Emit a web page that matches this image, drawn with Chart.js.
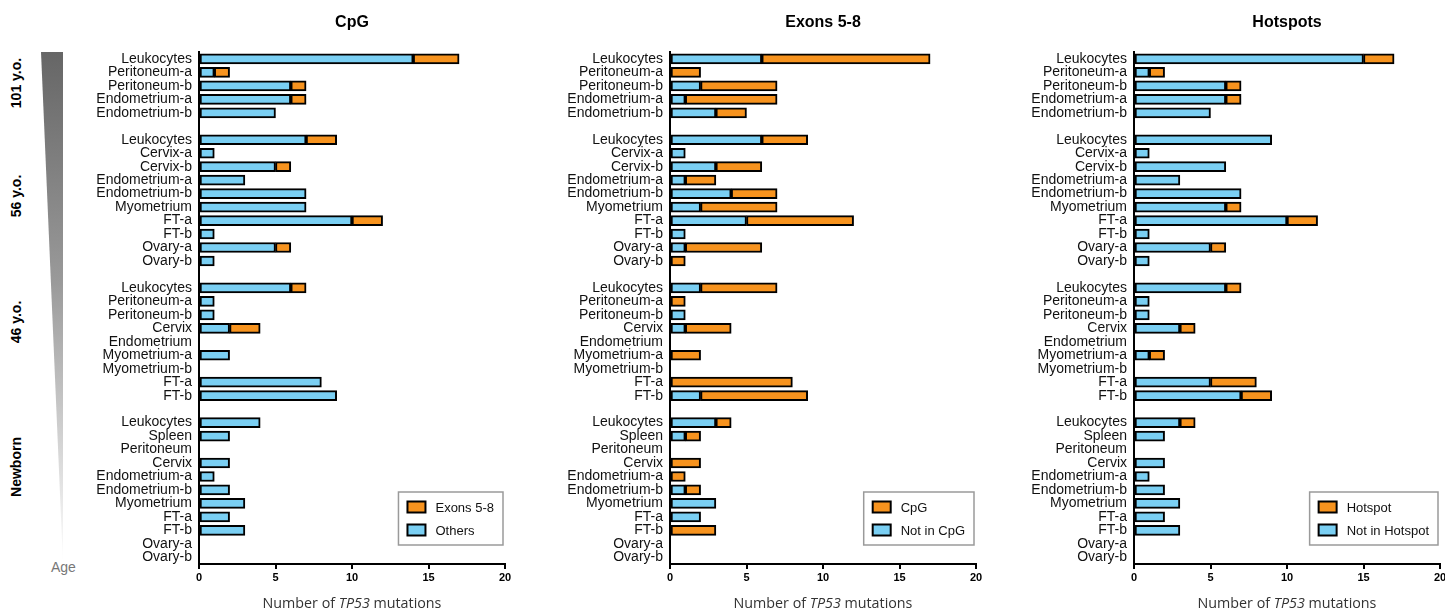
<!DOCTYPE html>
<html>
<head>
<meta charset="utf-8">
<title>TP53 mutations by tissue and age</title>
<script src="https://cdn.jsdelivr.net/npm/chart.js@4.4.1/dist/chart.umd.min.js"></script>
<style>
  html, body { margin: 0; padding: 0; background: #fff; overflow: hidden; }
  body { width: 1445px; height: 612px; position: relative; font-family: "Liberation Sans", Arial, sans-serif; }
  .panel { position: absolute; top: 0; height: 612px; }
  .age-bar {
    position: absolute; left: 41px; top: 52px; width: 22px; height: 512px;
    background: linear-gradient(to bottom, #666 0%, #9a9a9a 45%, #ffffff 100%);
    clip-path: polygon(0 0, 100% 0, 100% 100%);
  }
  .age-label {
    position: absolute; font-weight: bold; font-size: 14px; color: #000; white-space: nowrap;
    transform: translate(-50%, -50%) rotate(-90deg);
  }
  .age-caption { position: absolute; left: 51px; top: 559px; font-size: 14px; color: #777; }
</style>
</head>
<body>
<div class="age-bar"></div>
<div class="age-label" style="left:16px; top:83px;">101 y.o.</div>
<div class="age-label" style="left:16px; top:196px;">56 y.o.</div>
<div class="age-label" style="left:16px; top:322px;">46 y.o.</div>
<div class="age-label" style="left:16px; top:467px;">Newborn</div>
<div class="age-caption">Age</div>

<div class="panel" style="left:80px; width:440px;"><canvas id="cpg" width="440" height="612"></canvas></div>
<div class="panel" style="left:560px; width:430px;"><canvas id="exons" width="430" height="612"></canvas></div>
<div class="panel" style="left:1025px; width:430px;"><canvas id="hotspots" width="430" height="612"></canvas></div>

<script>
// Samples, grouped by donor age (blank rows separate the groups)
const categories = [
  'Leukocytes', 'Peritoneum-a', 'Peritoneum-b', 'Endometrium-a', 'Endometrium-b', '',
  'Leukocytes', 'Cervix-a', 'Cervix-b', 'Endometrium-a', 'Endometrium-b', 'Myometrium', 'FT-a', 'FT-b', 'Ovary-a', 'Ovary-b', '',
  'Leukocytes', 'Peritoneum-a', 'Peritoneum-b', 'Cervix', 'Endometrium', 'Myometrium-a', 'Myometrium-b', 'FT-a', 'FT-b', '',
  'Leukocytes', 'Spleen', 'Peritoneum', 'Cervix', 'Endometrium-a', 'Endometrium-b', 'Myometrium', 'FT-a', 'FT-b', 'Ovary-a', 'Ovary-b'
];

// CpG panel
const cpgOthers = [14, 1, 6, 6, 5, null, 7, 1, 5, 3, 7, 7, 10, 1, 5, 1, null, 6, 1, 1, 2, 0, 2, 0, 8, 9, null, 4, 2, 0, 2, 1, 2, 3, 2, 3, 0, 0];
const cpgExons  = [3, 1, 1, 1, 0, null, 2, 0, 1, 0, 0, 0, 2, 0, 1, 0, null, 1, 0, 0, 2, 0, 0, 0, 0, 0, null, 0, 0, 0, 0, 0, 0, 0, 0, 0, 0, 0];

// Exons 5-8 panel
const exonsNotCpg = [6, 0, 2, 1, 3, null, 6, 1, 3, 1, 4, 2, 5, 1, 1, 0, null, 2, 0, 1, 1, 0, 0, 0, 0, 2, null, 3, 1, 0, 0, 0, 1, 3, 2, 0, 0, 0];
const exonsCpg    = [11, 2, 5, 6, 2, null, 3, 0, 3, 2, 3, 5, 7, 0, 5, 1, null, 5, 1, 0, 3, 0, 2, 0, 8, 7, null, 1, 1, 0, 2, 1, 1, 0, 0, 3, 0, 0];

// Hotspots panel
const hotspotsNot = [15, 1, 6, 6, 5, null, 9, 1, 6, 3, 7, 6, 10, 1, 5, 1, null, 6, 1, 1, 3, 0, 1, 0, 5, 7, null, 3, 2, 0, 2, 1, 2, 3, 2, 3, 0, 0];
const hotspotsHot = [2, 1, 1, 1, 0, null, 0, 0, 0, 0, 0, 1, 2, 0, 1, 0, null, 1, 0, 0, 1, 0, 1, 0, 3, 2, null, 1, 0, 0, 0, 0, 0, 0, 0, 0, 0, 0];

const xTicks = [0, 5, 10, 15, 20];

const BLUE = '#7acff3';
const ORANGE = '#f7931e';
const FONT = '"Liberation Sans", Arial, Helvetica, sans-serif';

// empty segments are skipped so no zero-width outline is drawn
const segment = v => (v ? v : null);

// Legend boxed inside the lower right corner of the plot area
const insetLegend = {
  id: 'insetLegend',
  afterDraw(chart) {
    const ctx = chart.ctx;
    const area = chart.chartArea;
    const items = chart.data.datasets.slice().reverse();
    ctx.save();
    ctx.font = '13px ' + FONT;
    const textW = Math.max(...items.map(d => ctx.measureText(d.label).width));
    const padL = 9, swW = 18, swH = 11, gap = 10, padR = 9;
    const w = padL + swW + gap + textW + padR;
    const h = 53;
    const right = area.right - 2;
    const bottom = area.bottom - 19;
    const left = right - w;
    const top = bottom - h;
    ctx.strokeStyle = '#9a9a9a';
    ctx.lineWidth = 1.5;
    ctx.strokeRect(left, top, w, h);
    items.forEach((d, i) => {
      const cy = top + 15 + i * 23;
      ctx.fillStyle = d.backgroundColor;
      ctx.fillRect(left + padL, cy - swH / 2, swW, swH);
      ctx.strokeStyle = '#000';
      ctx.lineWidth = 2;
      ctx.strokeRect(left + padL, cy - swH / 2, swW, swH);
      ctx.fillStyle = '#111';
      ctx.textBaseline = 'middle';
      ctx.textAlign = 'left';
      ctx.fillText(d.label, left + padL + swW + gap, cy + 1);
    });
    ctx.restore();
  }
};

// X axis caption with the gene name in italics
const axisCaption = {
  id: 'axisCaption',
  afterDraw(chart) {
    const ctx = chart.ctx;
    const area = chart.chartArea;
    const parts = [
      { t: 'Number of ', f: '14.3px "Open Sans", sans-serif' },
      { t: 'TP53', f: 'italic 14.3px "Open Sans", sans-serif' },
      { t: ' mutations', f: '14.3px "Open Sans", sans-serif' }
    ];
    ctx.save();
    let total = 0;
    parts.forEach(p => { ctx.font = p.f; p.w = ctx.measureText(p.t).width; total += p.w; });
    let x = (area.left + area.right) / 2 - total / 2;
    ctx.fillStyle = '#333';
    ctx.textBaseline = 'middle';
    ctx.textAlign = 'left';
    parts.forEach(p => { ctx.font = p.f; ctx.fillText(p.t, x, 604); x += p.w; });
    ctx.restore();
  }
};

function makePanel(id, title, baseLabel, baseValues, topLabel, topValues, yAxisWidth, padRight) {
  return new Chart(document.getElementById(id), {
    type: 'bar',
    data: {
      labels: categories,
      datasets: [
        { label: baseLabel, data: baseValues.map(segment), backgroundColor: BLUE },
        { label: topLabel, data: topValues.map(segment), backgroundColor: ORANGE }
      ]
    },
    options: {
      indexAxis: 'y',
      responsive: false,
      animation: false,
      devicePixelRatio: 1,
      layout: { padding: { left: 0, right: padRight, top: 0, bottom: 0 } },
      datasets: {
        bar: {
          barThickness: 10,
          borderColor: '#000',
          borderWidth: 2,
          borderSkipped: false
        }
      },
      scales: {
        x: {
          stacked: true,
          min: 0,
          max: 20,
          afterBuildTicks: s => { s.ticks = xTicks.map(v => ({ value: v })); },
          afterFit: s => { s.height = 48; },
          border: { display: true, color: '#000', width: 2 },
          grid: { display: true, drawOnChartArea: false, drawTicks: true, tickLength: 5, color: '#000', lineWidth: 2 },
          ticks: { color: '#000', padding: 2, font: { family: FONT, size: 11, weight: 'bold' }, maxRotation: 0 }
        },
        y: {
          stacked: true,
          afterFit: s => { s.width = yAxisWidth; },
          border: { display: true, color: '#000', width: 2 },
          grid: { display: false, drawTicks: false },
          ticks: { color: '#111', padding: 7, autoSkip: false, font: { family: FONT, size: 14 } }
        }
      },
      plugins: {
        legend: { display: false },
        tooltip: { enabled: false },
        title: {
          display: true,
          text: title,
          fullSize: false,
          color: '#000',
          font: { family: FONT, size: 16, weight: 'bold', lineHeight: 1.2 },
          padding: { top: 13, bottom: 20 }
        }
      }
    },
    plugins: [insetLegend, axisCaption]
  });
}

makePanel('cpg', 'CpG', 'Others', cpgOthers, 'Exons 5-8', cpgExons, 119, 15);
makePanel('exons', 'Exons 5-8', 'Not in CpG', exonsNotCpg, 'CpG', exonsCpg, 110, 14);
makePanel('hotspots', 'Hotspots', 'Not in Hotspot', hotspotsNot, 'Hotspot', hotspotsHot, 109, 15);
</script>
</body>
</html>
